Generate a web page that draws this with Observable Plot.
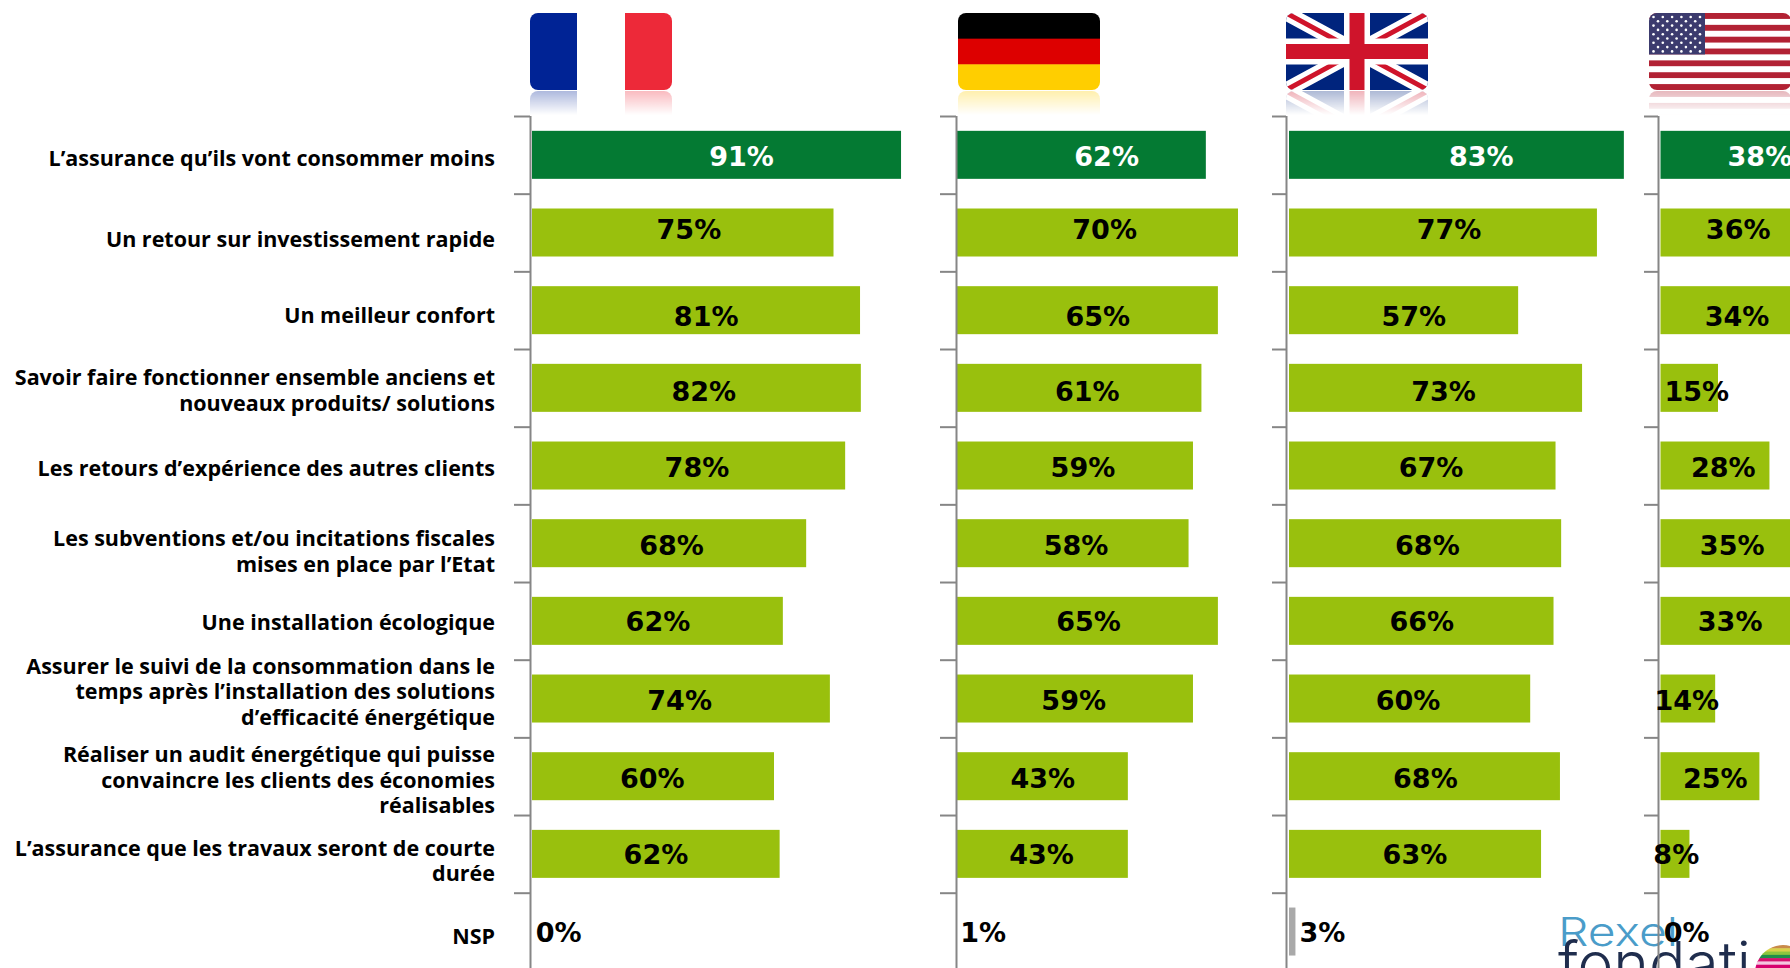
<!DOCTYPE html>
<html><head><meta charset="utf-8">
<script src="https://cdn.jsdelivr.net/npm/d3@7"></script>
<script src="https://cdn.jsdelivr.net/npm/@observablehq/plot@0.6"></script>
<style>
html,body{margin:0;padding:0;background:#fff;width:1790px;height:968px;overflow:hidden}
#page{position:relative;width:1790px;height:968px;overflow:hidden}
#page>*{position:absolute;top:0}
svg{display:block}
</style></head><body><div id="page"></div>
<script>
const rows = ["L’assurance qu’ils vont consommer moins","Un retour sur investissement rapide","Un meilleur confort",
"Savoir faire fonctionner ensemble anciens et\nnouveaux produits/ solutions","Les retours d’expérience des autres clients",
"Les subventions et/ou incitations fiscales\nmises en place par l’Etat","Une installation écologique",
"Assurer le suivi de la consommation dans le\ntemps après l’installation des solutions\nd’efficacité énergétique",
"Réaliser un audit énergétique qui puisse\nconvaincre les clients des économies\nréalisables",
"L’assurance que les travaux seront de courte\ndurée","NSP"];

// printed percentages
const franceLabels  = [91,75,81,82,78,68,62,74,60,62,0];
const germanyLabels = [62,70,65,61,59,58,65,59,43,43,1];
const ukLabels      = [83,77,57,73,67,68,66,60,68,63,3];
const usaLabels     = [38,36,34,15,28,35,33,14,25,8,0];

// bar lengths as drawn
const franceBars  = [91.8,75,81.6,81.8,77.9,68.2,62.4,74.1,60.2,61.6,0];
const germanyBars = [61.9,69.9,64.9,60.8,58.7,57.6,64.9,58.7,42.5,42.5,0];
const ukBars      = [83.3,76.6,57,72.9,66.3,67.7,65.8,60,67.4,62.7,1.6];
const usaBars     = [37,35,33,14.3,27.1,34,33,13.6,24.6,7.2,0];

// where each printed percentage sits, along the same axis
const franceAt  = [52,38.9,43.2,42.6,40.9,34.6,31.2,36.6,29.8,30.7,6.5];
const germanyAt = [37.1,36.6,34.9,32.3,31.2,29.5,32.6,28.9,21.2,20.9,6.4];
const ukAt      = [47.7,39.7,30.9,38.3,35.2,34.3,32.9,29.5,33.8,31.2,8.2];
const usaAt     = [24.6,19.2,18.9,8.9,15.5,17.7,17.2,6.4,13.5,3.8,6.4];

// layout
const W=1790,H=968,TOP=116,STEP=77.67,PX=4.02;
const FONT='"DejaVu Sans",Verdana,sans-serif';
const CAPTION_FONT='"Open Sans","Noto Sans",sans-serif';
const labelDy=[2.5,6,4.2,1.2,2,7.2,0.2,-8,3,6,4];
const valueDy=[2,-2.5,6.5,4.5,2,3,1.5,2.5,2.5,1,1];
const yScale={domain:rows,range:[TOP,TOP+STEP*rows.length],paddingInner:0.382,paddingOuter:0.191,align:0.5,round:false,axis:null};

const page=document.getElementById("page");
function place(el,left){el.style.left=left+"px";page.appendChild(el);}

// logo + flags overlay
const stripes=(cols,x,y,w,h)=>cols.map((c,i)=>`<rect x="${x}" y="${y+i*h/cols.length}" width="${w}" height="${h/cols.length+.5}" fill="${c}"/>`).join("");
const FW=142,FH=77;
const fr=`<rect width="47" height="${FH}" fill="#002395"/><rect x="47" width="48" height="${FH}" fill="#fff"/><rect x="95" width="47" height="${FH}" fill="#ED2939"/>`;
const de=stripes(["#000","#DD0000","#FFCE00"],0,0,FW,FH);
const uk=`<rect width="${FW}" height="${FH}" fill="#00247D"/>
<path d="M0 0L${FW} ${FH}M${FW} 0L0 ${FH}" stroke="#fff" stroke-width="15"/>
<path d="M0 0L${FW} ${FH}M${FW} 0L0 ${FH}" stroke="#CF142B" stroke-width="5"/>
<path d="M${FW/2} 0V${FH}M0 ${FH/2}H${FW}" stroke="#fff" stroke-width="26"/>
<path d="M${FW/2} 0V${FH}M0 ${FH/2}H${FW}" stroke="#CF142B" stroke-width="15"/>`;
let us=""; for(let i=0;i<13;i++) us+=`<rect y="${i*FH/13}" width="${FW}" height="${FH/13+.3}" fill="${i%2?"#fff":"#B22234"}"/>`;
us+=`<rect width="56" height="${FH*7/13}" fill="#3C3B6E"/>`;
for(let r=0;r<9;r++)for(let k=0;k<(r%2?5:6);k++)us+=`<circle cx="${(r%2?9:4.5)+k*9.3}" cy="${4+r*4.3}" r="1.3" fill="#fff"/>`;
const flags=[["fr",fr,530],["de",de,958],["uk",uk,1286],["us",us,1649]];
const overlay=document.createElementNS("http://www.w3.org/2000/svg","svg");
overlay.setAttribute("width",W);overlay.setAttribute("height",H);
overlay.innerHTML=`<defs>
<linearGradient id="fade" x1="0" y1="0" x2="0" y2="1"><stop offset="0" stop-color="#fff" stop-opacity=".32"/><stop offset="1" stop-color="#fff" stop-opacity="0"/></linearGradient>
<mask id="refl" maskUnits="userSpaceOnUse" x="0" y="0" width="${FW}" height="24"><rect width="${FW}" height="24" fill="url(#fade)"/></mask>
<clipPath id="round"><rect width="${FW}" height="${FH}" rx="8"/></clipPath>
<clipPath id="sphere"><circle cx="1783" cy="973" r="28"/></clipPath>
</defs>`+flags.map(([id,s,x])=>`<g transform="translate(${x},13)"><g clip-path="url(#round)">${s}</g>
<g transform="translate(0,${FH+1})" mask="url(#refl)"><g transform="translate(0,${FH}) scale(1,-1)" clip-path="url(#round)">${s}</g></g></g>`).join("")+
`<text x="1558" y="946" font-family="Inter,sans-serif" font-weight="300" font-size="40" textLength="120" lengthAdjust="spacingAndGlyphs" fill="#4A9CC9">Rexel</text>
<text x="1558" y="985" font-family="Inter,sans-serif" font-weight="300" font-size="60" textLength="193" lengthAdjust="spacingAndGlyphs" fill="#1F2D4D">fondati</text>
<g clip-path="url(#sphere)">${stripes(["#C98A4A","#D9D24A","#8DC63F","#1F8F4A","#D6106E","#F4C6E0","#D6006E"],1750,945,50,23)}</g>`;
place(overlay,0);

// row captions
const labelRows=rows.map((r,i)=>({r,i}));
place(Plot.plot({width:520,height:H,margin:0,marginTop:TOP,x:{axis:null,domain:[0,1],range:[0,494.5]},y:yScale,
 marks:labelRows.map(d=>Plot.text([d],{x:()=>1,y:"r",text:"r",textAnchor:"end",lineAnchor:"middle",lineHeight:1.19,
   dy:labelDy[d.i],fontFamily:CAPTION_FONT,fontWeight:700,fontSize:21.5,fill:"#000"}))}),0);

function panel(left,axisX,start,right,bars,labels,at){
 const w=right-left, origin=(start-left)/PX;
 const data=rows.map((r,i)=>({r,i,v:bars[i],l:labels[i],at:at[i]}));
 const c=i=>i===0?"#047A33":(i===rows.length-1?"#A9A9A9":"#99C00D");
 const svg=Plot.plot({width:w,height:H,margin:0,marginTop:TOP,
  x:{axis:null,domain:[-origin,w/PX-origin],range:[0,w]},y:yScale,
  marks:[
   Plot.rectX(data,{x1:0,x2:"v",y:"r",fill:d=>c(d.i)}),
   Plot.ruleX([(axisX-start)/PX],{stroke:"#868686",strokeWidth:2}),
   Plot.ruleY(data,{y:"r",dy:-STEP/2,x1:-origin,x2:(axisX-start)/PX,stroke:"#868686",strokeWidth:2}),
   ...data.map(d=>Plot.text([d],{x:"at",y:"r",text:e=>e.l+"%",dy:valueDy[d.i],lineAnchor:"middle",
      fontFamily:FONT,fontWeight:700,fontSize:27,fill:d.i===0?"#fff":"#000"}))
  ]});
 place(svg,left);
}
panel(514,530,532,940,franceBars,franceLabels,franceAt);
panel(940,956,957,1272,germanyBars,germanyLabels,germanyAt);
panel(1272,1286,1289,1644,ukBars,ukLabels,ukAt);
panel(1644,1658,1660.5,1790,usaBars,usaLabels,usaAt);
</script></body></html>
